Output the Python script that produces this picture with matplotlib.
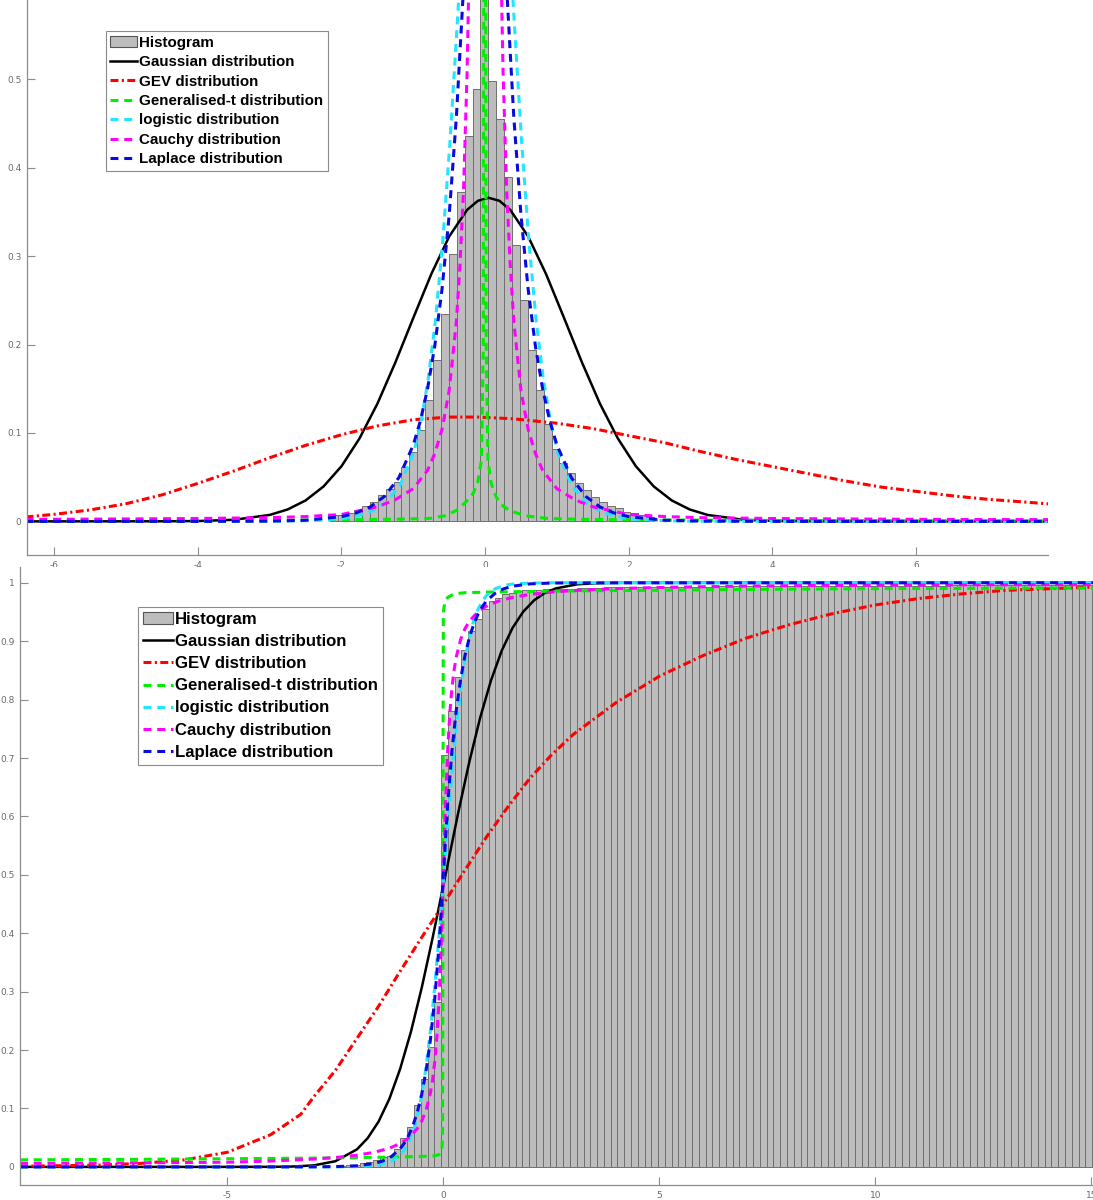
import matplotlib
matplotlib.use("Agg")
import matplotlib.pyplot as plt
import numpy as np
from matplotlib.lines import Line2D
from matplotlib.patches import Patch
from matplotlib.ticker import FuncFormatter

# ---- histogram data -------------------------------------------------------
# density histogram (upper panel), bins of 0.11 starting at -2.155
pdf_bin_start = -2.155
pdf_bin_width = 0.11
pdf_hist = [0.007, 0.007, 0.0097, 0.0128, 0.0173, 0.022, 0.0297, 0.037, 0.044,
            0.061, 0.079, 0.103, 0.137, 0.182, 0.235, 0.302, 0.372, 0.436, 0.489,
            2.6,
            0.498, 0.455, 0.39, 0.313, 0.250, 0.194, 0.149, 0.110, 0.0814, 0.0656,
            0.055, 0.0437, 0.036, 0.0278, 0.022, 0.0173, 0.0147, 0.0109, 0.009,
            0.007, 0.005]

# cumulative histogram (lower panel), bins of 0.157 starting at -2.408
cdf_bin_start = -2.408
cdf_bin_width = 0.157
cdf_hist = [0.002, 0.003, 0.004, 0.006, 0.009, 0.012, 0.0166, 0.019, 0.030, 0.050,
            0.069, 0.106, 0.150, 0.206, 0.283, 0.705, 0.780, 0.838, 0.885, 0.917,
            0.938, 0.955, 0.968, 0.974, 0.980, 0.983, 0.986, 0.987, 0.988, 0.988,
            0.989, 0.989, 0.990, 0.990, 0.990, 0.991, 0.991, 0.991, 0.991, 0.992,
            0.992, 0.992, 0.992, 0.992, 0.992, 0.993, 0.993, 0.993, 0.993, 0.993,
            0.993, 0.993, 0.993, 0.993, 0.993, 0.994, 0.994, 0.994, 0.994, 0.994,
            0.994, 0.994, 0.994, 0.994, 0.994, 0.994, 0.994, 0.994, 0.994, 0.994,
            0.995, 0.995, 0.995, 0.995, 0.995, 0.995, 0.995, 0.995, 0.995, 0.995,
            0.995, 0.995, 0.995, 0.995, 0.995, 0.995, 0.995, 0.995, 0.995, 0.995,
            0.996, 0.996, 0.996, 0.996, 0.996, 0.996, 0.996, 0.996, 0.996, 0.996,
            0.996, 0.996, 0.996, 0.996, 0.996, 0.996, 0.996, 0.996, 0.996, 0.996,
            0.996]

# ---- fitted densities (upper panel) --------------------------------------
gauss_pdf_x = [-6.4, -4.5, -4.0, -3.5, -3.0, -2.75, -2.5, -2.25, -2.0, -1.75, -1.5,
               -1.25, -1.0, -0.75, -0.5, -0.25, -0.1, 0.05, 0.2, 0.35, 0.6, 0.85,
               1.1, 1.35, 1.6, 1.85, 2.1, 2.35, 2.6, 2.85, 3.1, 3.6, 4.1, 4.6, 7.9]
gauss_pdf_y = [0.0, 0.0001, 0.0004, 0.0018, 0.0073, 0.0135, 0.0237, 0.0395, 0.0624,
               0.0937, 0.1331, 0.1797, 0.2301, 0.2796, 0.3223, 0.3524, 0.3626, 0.366,
               0.3626, 0.3524, 0.3223, 0.2796, 0.2301, 0.1797, 0.1331, 0.0937, 0.0624,
               0.0395, 0.0237, 0.0135, 0.0073, 0.0018, 0.0004, 0.0001, 0.0]

gev_pdf_x = [-6.4, -6.0, -5.5, -5.0, -4.5, -4.0, -3.5, -3.0, -2.5, -2.0, -1.5, -1.0,
             -0.5, -0.1, 0.4, 1.0, 1.5, 2.0, 2.5, 3.0, 3.5, 4.0, 4.5, 5.0, 5.5, 6.0,
             6.5, 7.0, 7.5, 7.9]
gev_pdf_y = [0.005, 0.008, 0.013, 0.02, 0.03, 0.043, 0.057, 0.072, 0.086, 0.098,
             0.108, 0.115, 0.118, 0.118, 0.116, 0.111, 0.105, 0.097, 0.089, 0.079,
             0.07, 0.062, 0.054, 0.046, 0.039, 0.034, 0.029, 0.025, 0.022, 0.0195]

gent_pdf_x = [-6.4, -4.0, -2.5, -1.7, -1.2, -0.77, -0.55, -0.39, -0.28, -0.2, -0.163,
              -0.1, -0.05, -0.025, -0.012, -0.005, 0.002, 0.015, 0.04, 0.08, 0.116,
              0.16, 0.21, 0.3, 0.39, 0.55, 0.86, 1.3, 2.0, 3.5, 5.5, 7.9]
gent_pdf_y = [0.0006, 0.001, 0.0015, 0.002, 0.0026, 0.0034, 0.0065, 0.0128, 0.021,
              0.028, 0.032, 0.045, 0.07, 0.2, 1.0, 30.0, 1.0, 0.2, 0.07, 0.045, 0.035,
              0.027, 0.020, 0.0145, 0.011, 0.0065, 0.0034, 0.0024, 0.0018, 0.0012,
              0.0008, 0.0006]

logi_pdf_x = [-6.4, -2.99, -2.49, -1.99, -1.79, -1.59, -1.39, -1.19, -0.99, -0.89,
              -0.79, -0.69, -0.59, -0.49, -0.39, -0.29, -0.19, -0.09, 0.01, 0.11,
              0.21, 0.31, 0.41, 0.51, 0.61, 0.71, 0.81, 0.91, 1.01, 1.21, 1.41, 1.61,
              1.81, 2.01, 2.51, 3.01, 7.9]
logi_pdf_y = [0.0, 0.0002, 0.0008, 0.003, 0.006, 0.011, 0.021, 0.040, 0.0788, 0.1134,
              0.162, 0.2284, 0.3166, 0.428, 0.5597, 0.701, 0.8323, 0.9268, 0.9615,
              0.9268, 0.8323, 0.701, 0.5597, 0.428, 0.3166, 0.2284, 0.162, 0.1134,
              0.0788, 0.040, 0.021, 0.011, 0.006, 0.003, 0.0008, 0.0002, 0.0]

cauchy_pdf_x = [-6.4, -5.0, -4.0, -3.0, -2.5, -2.0, -1.5, -1.25, -1.0, -0.8, -0.7,
                -0.6, -0.5, -0.4, -0.35, -0.3, -0.25, -0.2, -0.15, -0.1, -0.05, 0.0,
                0.05, 0.1, 0.15, 0.2, 0.25, 0.3, 0.35, 0.4, 0.5, 0.6, 0.7, 0.8, 1.0,
                1.25, 1.5, 2.0, 2.5, 3.0, 4.0, 5.0, 6.4, 7.9]
cauchy_pdf_y = [0.0022, 0.0028, 0.0033, 0.0042, 0.0055, 0.0078, 0.0165, 0.0245, 0.037,
                0.058, 0.077, 0.104, 0.148, 0.226, 0.29, 0.375, 0.51, 0.718, 1.045,
                1.55, 2.183, 2.526, 2.183, 1.55, 1.045, 0.718, 0.51, 0.375, 0.29,
                0.226, 0.148, 0.104, 0.077, 0.058, 0.037, 0.0245, 0.0165, 0.0078,
                0.0055, 0.0042, 0.0033, 0.0028, 0.0022, 0.002]

lap_pdf_x = [-6.4, -4.0, -3.0, -2.5, -2.0, -1.8, -1.6, -1.4, -1.2, -1.0, -0.9, -0.8,
             -0.7, -0.6, -0.5, -0.4, -0.3, -0.2, -0.1, 0.0, 0.1, 0.2, 0.3, 0.4, 0.5,
             0.6, 0.7, 0.8, 0.9, 1.0, 1.2, 1.4, 1.6, 1.8, 2.0, 2.5, 3.0, 4.0, 7.9]
lap_pdf_y = [0.0, 0.00002, 0.00033, 0.0013, 0.0054, 0.0094, 0.0163, 0.0284, 0.0496,
             0.0864, 0.114, 0.1506, 0.1988, 0.2624, 0.3464, 0.457, 0.604, 0.797,
             1.052, 1.389, 1.052, 0.797, 0.604, 0.457, 0.3464, 0.2624, 0.1988, 0.1506,
             0.114, 0.0864, 0.0496, 0.0284, 0.0163, 0.0094, 0.0054, 0.0013, 0.00033,
             0.00002, 0.0]

# ---- fitted distribution functions (lower panel) -------------------------
gauss_cdf_x = [-9.8, -5.0, -4.0, -3.5, -3.0, -2.5, -2.0, -1.75, -1.5, -1.25, -1.0,
               -0.75, -0.5, -0.25, 0.05, 0.35, 0.6, 0.85, 1.1, 1.35, 1.6, 1.85, 2.1,
               2.35, 2.6, 3.1, 3.6, 4.1, 15.2]
gauss_cdf_y = [0.0, 0.0, 0.0001, 0.0006, 0.0026, 0.0097, 0.030, 0.0494, 0.0775,
               0.1164, 0.1678, 0.2315, 0.3069, 0.3916, 0.5, 0.6084, 0.6931, 0.7685,
               0.8322, 0.8836, 0.9225, 0.9506, 0.970, 0.9826, 0.9903, 0.9974, 0.9994,
               0.9999, 1.0]

gev_cdf_x = [-9.8, -8.0, -7.0, -6.0, -5.0, -4.0, -3.3, -3.0, -2.5, -2.0, -1.5, -1.0,
             -0.5, 0.0, 0.5, 1.0, 1.5, 2.0, 2.5, 3.0, 4.0, 5.0, 6.0, 7.0, 8.0, 9.0,
             10.0, 11.0, 12.0, 13.0, 15.2]
gev_cdf_y = [0.001, 0.003, 0.006, 0.012, 0.025, 0.055, 0.09, 0.12, 0.165, 0.22, 0.275,
             0.335, 0.393, 0.45, 0.508, 0.565, 0.617, 0.665, 0.705, 0.74, 0.795, 0.84,
             0.875, 0.905, 0.928, 0.947, 0.962, 0.973, 0.981, 0.987, 0.993]

gent_cdf_x = [-9.8, -7.0, -5.0, -3.0, -2.0, -1.0, -0.5, -0.2, -0.1, -0.05, -0.03,
              -0.02, -0.015, -0.01, -0.005, 0.0, 0.03, 0.1, 0.25, 0.5, 1.0, 3.0, 6.0,
              10.0, 15.2]
gent_cdf_y = [0.012, 0.013, 0.014, 0.015, 0.016, 0.017, 0.018, 0.019, 0.021, 0.025,
              0.035, 0.06, 0.2, 0.5, 0.8, 0.95, 0.965, 0.975, 0.981, 0.983, 0.984,
              0.986, 0.988, 0.99, 0.991]

logi_cdf_x = [-9.8, -3.0, -2.5, -2.0, -1.6, -1.4, -1.2, -1.0, -0.9, -0.8, -0.7, -0.6,
              -0.5, -0.4, -0.3, -0.2, -0.1, 0.0, 0.1, 0.2, 0.3, 0.4, 0.5, 0.6, 0.7,
              0.8, 0.9, 1.0, 1.2, 1.4, 1.6, 2.0, 2.5, 15.2]
logi_cdf_y = [0.0, 0.0, 0.0001, 0.0004, 0.0021, 0.0044, 0.0094, 0.0201, 0.0293, 0.0425,
              0.0612, 0.0874, 0.1233, 0.1712, 0.2328, 0.3084, 0.3957, 0.4904, 0.5857,
              0.675, 0.753, 0.8176, 0.8682, 0.9063, 0.9343, 0.9543, 0.9684, 0.9783,
              0.9898, 0.9953, 0.9978, 0.9995, 1.0, 1.0]

cauchy_cdf_x = [-9.8, -7.0, -5.0, -4.0, -3.0, -2.5, -2.0, -1.6, -1.25, -1.0, -0.8,
                -0.6, -0.5, -0.4, -0.3, -0.25, -0.2, -0.15, -0.1, -0.05, 0.0, 0.05,
                0.1, 0.15, 0.2, 0.25, 0.3, 0.4, 0.5, 0.6, 0.8, 1.0, 1.25, 1.6, 2.0,
                2.5, 3.0, 4.0, 5.0, 7.0, 10.0, 15.2]
cauchy_cdf_y = [0.006, 0.007, 0.008, 0.010, 0.0134, 0.016, 0.020, 0.025, 0.032,
                0.0399, 0.0497, 0.0659, 0.0786, 0.097, 0.1266, 0.1486, 0.179, 0.2224,
                0.2863, 0.3798, 0.5, 0.6202, 0.7137, 0.7776, 0.821, 0.8514, 0.8734,
                0.903, 0.9214, 0.9341, 0.9503, 0.9601, 0.968, 0.975, 0.98, 0.984,
                0.9866, 0.990, 0.992, 0.9943, 0.996, 0.997]

lap_cdf_x = [-9.8, -4.0, -3.0, -2.5, -2.0, -1.6, -1.4, -1.2, -1.0, -0.9, -0.8, -0.7,
             -0.6, -0.5, -0.4, -0.3, -0.2, -0.1, 0.0, 0.1, 0.2, 0.3, 0.4, 0.5, 0.6,
             0.7, 0.8, 0.9, 1.0, 1.2, 1.4, 1.6, 2.0, 2.5, 3.0, 15.2]
lap_cdf_y = [0.0, 0.0, 0.0001, 0.0005, 0.0019, 0.0059, 0.0102, 0.0179, 0.0311, 0.041,
             0.0542, 0.0716, 0.0945, 0.1247, 0.1646, 0.2173, 0.2869, 0.3788, 0.5,
             0.6212, 0.7131, 0.7827, 0.8354, 0.8753, 0.9055, 0.9284, 0.9458, 0.959,
             0.9689, 0.9821, 0.9898, 0.9941, 0.9981, 0.9995, 0.9999, 1.0]

labels = ['Histogram', 'Gaussian distribution', 'GEV distribution',
          'Generalised-t distribution', 'logistic distribution',
          'Cauchy distribution', 'Laplace distribution']

# ---- styles ---------------------------------------------------------------
BAR_FACE = '#bdbdbd'
BAR_EDGE = '#6f6f6f'
AXIS_GREY = '#8c8c8c'
DASH = (2.6, 1.9)
DASHDOT = (2.6, 1.1, 0.7, 1.1)
styles = [
    dict(color='black', lw=1.8, ls='-'),
    dict(color='#ff0000', lw=2.2, dashes=DASHDOT),
    dict(color='#00ee00', lw=2.2, dashes=DASH),
    dict(color='#22e6ff', lw=2.2, dashes=DASH),
    dict(color='#ff00ff', lw=2.2, dashes=DASH),
    dict(color='#0a0ae0', lw=2.2, dashes=DASH),
]

fig = plt.figure(figsize=(10.93, 12), dpi=100)
ax1 = fig.add_axes([27 / 1093, 1 - 555 / 1200, 1021 / 1093, 555 / 1200])
ax2 = fig.add_axes([20 / 1093, 1 - 1185 / 1200, 1080 / 1093, 618 / 1200])


def style_axes(ax):
    for side in ('top', 'right'):
        ax.spines[side].set_visible(False)
    for side in ('left', 'bottom'):
        ax.spines[side].set_color(AXIS_GREY)
        ax.spines[side].set_linewidth(0.9)
    ax.tick_params(direction='in', length=6, width=0.8, color=AXIS_GREY,
                   labelsize=6.5, labelcolor='#6a6a6a', pad=4)
    ax.xaxis.set_major_formatter(FuncFormatter(lambda v, p: '%g' % v))
    ax.yaxis.set_major_formatter(FuncFormatter(lambda v, p: '%g' % v))


def draw_panel(ax, bin_start, bin_width, heights, curves, legend_anchor, legend_size,
               row_gap):
    lefts = bin_start + bin_width * np.arange(len(heights))
    ax.bar(lefts, heights, width=bin_width, align='edge', color=BAR_FACE,
           edgecolor=BAR_EDGE, linewidth=0.7, zorder=1)
    for (cx, cy), st in zip(curves, styles):
        ax.plot(cx, cy, zorder=2, **st)
    handles = [Patch(facecolor=BAR_FACE, edgecolor='#555555', linewidth=0.8)]
    handles += [Line2D([], [], **st) for st in styles]
    leg = ax.legend(handles, labels, loc='upper left', bbox_to_anchor=legend_anchor,
                    borderaxespad=0, fancybox=False, framealpha=1, edgecolor='#8a8a8a',
                    handlelength=1.8, handletextpad=0.12, borderpad=0.3,
                    labelspacing=row_gap,
                    prop=dict(family='Liberation Sans', weight='bold', size=legend_size))
    leg.get_frame().set_linewidth(0.8)
    leg.set_zorder(5)
    style_axes(ax)


draw_panel(ax1, pdf_bin_start, pdf_bin_width, pdf_hist,
           [(gauss_pdf_x, gauss_pdf_y), (gev_pdf_x, gev_pdf_y),
            (gent_pdf_x, gent_pdf_y), (logi_pdf_x, logi_pdf_y),
            (cauchy_pdf_x, cauchy_pdf_y), (lap_pdf_x, lap_pdf_y)],
           (0.077, 0.944), 10.9, 0.36)
ax1.set_xlim(-6.38, 7.84)
ax1.set_ylim(-0.038, 0.5897)
ax1.set_xticks([-6, -4, -2, 0, 2, 4, 6])
ax1.set_yticks([0, 0.1, 0.2, 0.3, 0.4, 0.5])

draw_panel(ax2, cdf_bin_start, cdf_bin_width, cdf_hist,
           [(gauss_cdf_x, gauss_cdf_y), (gev_cdf_x, gev_cdf_y),
            (gent_cdf_x, gent_cdf_y), (logi_cdf_x, logi_cdf_y),
            (cauchy_cdf_x, cauchy_cdf_y), (lap_cdf_x, lap_cdf_y)],
           (0.109, 0.935), 12.1, 0.42)
ax2.set_xlim(-9.8, 15.2)
ax2.set_ylim(-0.031, 1.027)
ax2.set_xticks([-5, 0, 5, 10, 15])
ax2.set_yticks([0, 0.1, 0.2, 0.3, 0.4, 0.5, 0.6, 0.7, 0.8, 0.9, 1])

fig.savefig('out.png', dpi=100)
